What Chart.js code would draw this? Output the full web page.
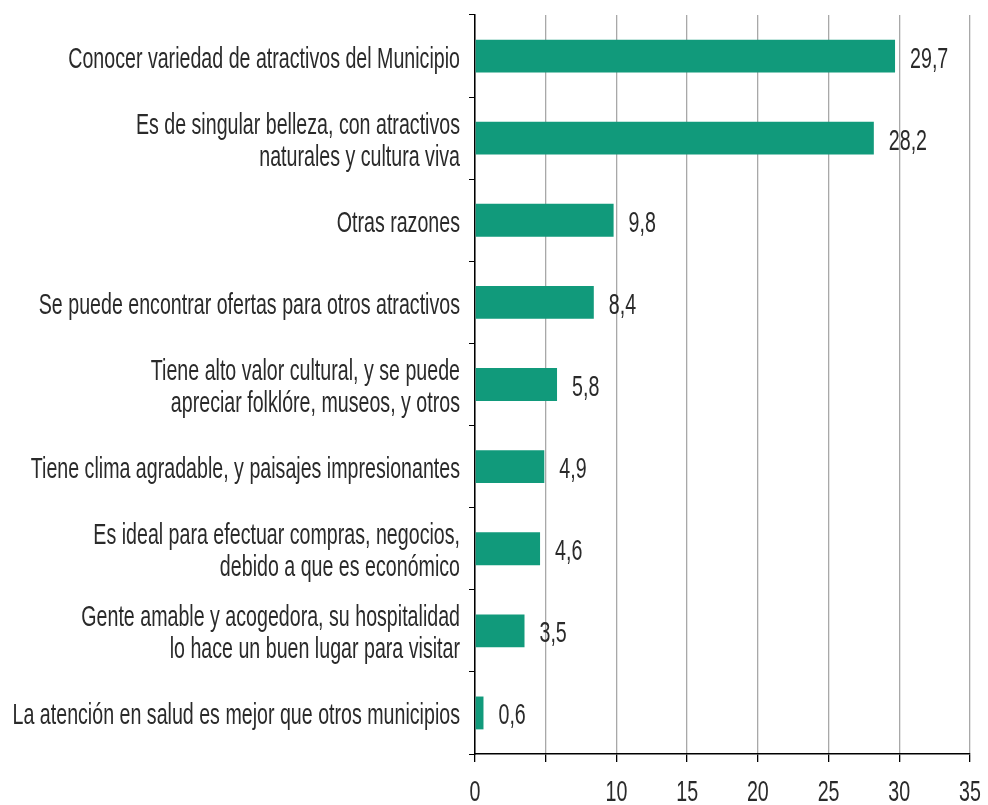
<!DOCTYPE html>
<html>
<head>
<meta charset="utf-8">
<script src="https://cdn.jsdelivr.net/npm/chart.js@4"></script>
<style>
  html, body { margin: 0; padding: 0; background: #fff; }
  #wrap { width: 988px; height: 805px; }
</style>
</head>
<body>
<div id="wrap"><canvas id="c" width="988" height="805"></canvas></div>
<script>
const categories = [
  ["Conocer variedad de atractivos del Municipio"],
  ["Es de singular belleza, con atractivos", "naturales y cultura viva"],
  ["Otras razones"],
  ["Se puede encontrar ofertas para otros atractivos"],
  ["Tiene alto valor cultural, y se puede", "apreciar folklóre, museos, y otros"],
  ["Tiene clima agradable, y paisajes impresionantes"],
  ["Es ideal para efectuar compras, negocios,", "debido a que es económico"],
  ["Gente amable y acogedora, su hospitalidad", "lo hace un buen lugar para visitar"],
  ["La atención en salud es mejor que otros municipios"]
];
const values = [29.7, 28.2, 9.8, 8.4, 5.8, 4.9, 4.6, 3.5, 0.6];
const xTicks = [0, 5, 10, 15, 20, 25, 30, 35];
const hiddenTick = 5;

// the source uses a tall narrow face; none is installed,
// so text is drawn with Liberation Sans squeezed horizontally
const FONT = "29px 'Liberation Sans', Arial, sans-serif";
const SQUEEZE = 0.677;
const TEXT = "#2a2a2a";
const LINE_H = 32;
const CAP_HALF = 10.5;

function narrowText(ctx, txt, x, y, align) {
  ctx.save();
  ctx.translate(x, y);
  ctx.scale(SQUEEZE, 1);
  ctx.textAlign = align;
  ctx.fillText(txt, 0, 0);
  ctx.restore();
}

const textLayer = {
  id: "textLayer",
  afterDraw(chart) {
    const ctx = chart.ctx;
    const xs = chart.scales.x, ys = chart.scales.y;
    const area = chart.chartArea;
    ctx.save();
    ctx.font = FONT;
    ctx.fillStyle = TEXT;
    ctx.textBaseline = "alphabetic";

    // category labels
    categories.forEach((lines, i) => {
      const cy = ys.getPixelForTick(i);
      const start = cy - (lines.length - 1) * LINE_H / 2;
      lines.forEach((ln, k) => narrowText(ctx, ln, area.left - 15, start + k * LINE_H + CAP_HALF + 1, "right"));
    });

    // x tick labels
    xTicks.forEach(v => {
      if (v === hiddenTick) return;
      narrowText(ctx, String(v), xs.getPixelForValue(v), area.bottom + 36 + CAP_HALF, "center");
    });

    // value labels
    chart.getDatasetMeta(0).data.forEach((bar, i) => {
      const txt = values[i].toFixed(1).replace(".", ",");
      narrowText(ctx, txt, bar.x + 15, bar.y + CAP_HALF + 1, "left");
    });
    ctx.restore();
  }
};

new Chart(document.getElementById("c"), {
  type: "bar",
  data: {
    labels: categories,
    datasets: [{
      data: values,
      backgroundColor: "#119a7b",
      borderWidth: 0,
      barPercentage: 0.8,
      categoryPercentage: 0.5
    }]
  },
  options: {
    indexAxis: "y",
    responsive: false,
    animation: false,
    layout: { padding: { top: 15, right: 18, bottom: 0, left: 0 } },
    plugins: { legend: { display: false }, tooltip: { enabled: false } },
    scales: {
      x: {
        min: 0,
        max: 35,
        afterBuildTicks(scale) { scale.ticks = xTicks.map(v => ({ value: v })); },
        afterFit(scale) { scale.height = 51; },
        border: { color: "#000", width: 1.5 },
        grid: { color: "#a8a8a8", lineWidth: 1.3, tickLength: 8, tickColor: "#000" },
        ticks: { display: false }
      },
      y: {
        offset: true,
        afterFit(scale) { scale.width = 475; },
        border: { color: "#000", width: 1.5 },
        grid: { offset: true, drawOnChartArea: false, tickLength: 6, tickColor: "#000" },
        ticks: { display: false }
      }
    }
  },
  plugins: [textLayer]
});
</script>
</body>
</html>
